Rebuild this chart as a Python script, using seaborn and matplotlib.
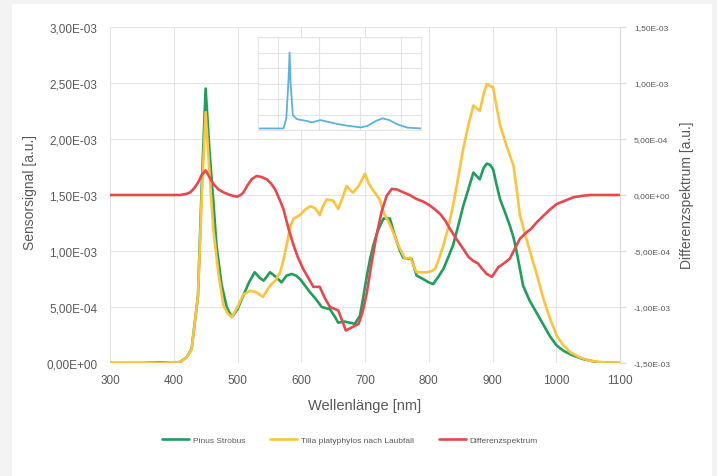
import numpy as np
import pandas as pd
import matplotlib
matplotlib.use("Agg")
import matplotlib.pyplot as plt
import matplotlib.patches as mpatches
from matplotlib.ticker import FuncFormatter, MultipleLocator
import seaborn as sns

# ---------------- data (values in units of 1E-03) ----------------
pinus_nm = [300, 350, 380, 400, 410, 420, 428, 438, 444, 450, 456, 462, 467, 475, 483, 491, 500,
            509, 518, 527, 535, 541, 551, 560, 569, 577, 585, 592, 598, 606, 614, 623, 632, 645,
            652, 658, 668, 676, 684, 692, 697, 703, 708, 713, 720, 729, 739, 745, 750, 755, 760,
            767, 773, 781, 791, 800, 807, 815, 823, 831, 838, 846, 854, 862, 870, 880, 886, 891,
            896, 901, 906, 912, 920, 927, 933, 938, 943, 948, 958, 969, 980, 990, 1000, 1011,
            1025, 1042, 1066, 1100]
pinus_val = [0, 0, 0.005, 0, 0.01, 0.05, 0.125, 0.6, 1.6, 2.45, 1.9, 1.45, 1.05, 0.7, 0.5, 0.41, 0.48,
             0.6, 0.72, 0.81, 0.76, 0.735, 0.81, 0.77, 0.72, 0.78, 0.795, 0.78, 0.75, 0.69, 0.63, 0.57, 0.50, 0.48,
             0.42, 0.36, 0.37, 0.36, 0.35, 0.42, 0.58, 0.78, 0.93, 1.05, 1.18, 1.29, 1.29, 1.17, 1.08, 1.0, 0.94,
             0.93, 0.93, 0.78, 0.75, 0.72, 0.705, 0.77, 0.84, 0.95, 1.05, 1.22, 1.40, 1.55, 1.70, 1.64, 1.74, 1.78,
             1.77, 1.73, 1.60, 1.46, 1.34, 1.23, 1.12, 0.99, 0.84, 0.69, 0.56, 0.45, 0.34, 0.24, 0.16, 0.11,
             0.07, 0.035, 0.005, 0]

tilia_nm = [300, 400, 410, 420, 428, 438, 444, 450, 456, 462, 470, 478, 485, 491, 500, 509, 520, 530,
            540, 551, 560, 567, 572, 577, 582, 588, 598, 606, 614, 622, 629, 634, 640, 650, 658, 665,
            671, 681, 690, 700, 706, 713, 723, 729, 737, 744, 750, 755, 763, 771, 776, 781, 790, 797,
            804, 810, 816, 823, 831, 838, 846, 854, 862, 870, 880, 886, 891, 901, 906, 912, 922, 933,
            938, 943, 951, 959, 970, 980, 990, 1001, 1011, 1022, 1037, 1053, 1075, 1100]
tilia_val = [0, 0, 0.01, 0.05, 0.12, 0.6, 1.5, 2.24, 1.7, 1.2, 0.8, 0.51, 0.44, 0.41, 0.5, 0.61, 0.645, 0.63,
             0.59, 0.69, 0.74, 0.81, 0.92, 1.05, 1.2, 1.29, 1.32, 1.37, 1.40, 1.38, 1.32, 1.40, 1.46, 1.45, 1.375, 1.48,
             1.58, 1.52, 1.58, 1.69, 1.60, 1.54, 1.46, 1.345, 1.26, 1.17, 1.08, 1.02, 0.93, 0.94, 0.87, 0.81, 0.81, 0.81,
             0.82, 0.84, 0.93, 1.05, 1.22, 1.40, 1.65, 1.91, 2.12, 2.30, 2.25, 2.40, 2.49, 2.46, 2.30, 2.12, 1.94, 1.76,
             1.55, 1.32, 1.15, 0.99, 0.78, 0.57, 0.40, 0.24, 0.16, 0.095, 0.05, 0.02, 0.005, 0]

diff_nm = [300, 410, 420, 426, 432, 438, 444, 450, 456, 462, 470, 478, 488, 499, 505, 509, 515, 522,
           530, 538, 546, 553, 559, 566, 572, 580, 588, 595, 603, 611, 619, 629, 637, 645, 658, 664,
           670, 680, 690, 696, 703, 710, 718, 726, 734, 742, 750, 760, 770, 781, 792, 802, 810, 818,
           826, 833, 843, 854, 862, 870, 877, 884, 891, 899, 904, 909, 918, 927, 935, 943, 952, 961,
           970, 980, 990, 1001, 1014, 1027, 1040, 1053, 1100]
diff_val = [0, 0, 0.01, 0.024, 0.06, 0.11, 0.18, 0.22, 0.16, 0.10, 0.05, 0.024, 0.0, -0.015, 0.0, 0.02, 0.08, 0.14,
            0.17, 0.16, 0.14, 0.10, 0.05, -0.04, -0.125, -0.3, -0.45, -0.56, -0.66, -0.74, -0.82, -0.82, -0.92, -1.0, -1.03, -1.12,
            -1.21, -1.18, -1.15, -1.05, -0.87, -0.62, -0.36, -0.15, -0.006, 0.054, 0.05, 0.024, 0.0, -0.036, -0.06, -0.095, -0.13, -0.17,
            -0.23, -0.30, -0.39, -0.48, -0.55, -0.59, -0.61, -0.66, -0.705, -0.73, -0.69, -0.645, -0.61, -0.57, -0.48, -0.39, -0.34, -0.30,
            -0.24, -0.185, -0.13, -0.08, -0.05, -0.02, -0.008, 0.0, 0]

inset_nm = [300, 425, 439, 450, 455, 460, 471, 491, 515, 540, 565, 606, 639, 689, 738, 804, 837, 878,
            911, 944, 985, 1034, 1100]
inset_val = [0.1, 0.1, 0.75, 3.3, 5.0, 3.0, 0.96, 0.7, 0.64, 0.58, 0.49, 0.64, 0.54, 0.39, 0.28, 0.17, 0.26, 0.58,
             0.75, 0.64, 0.36, 0.15, 0.1]

series_names = ["Pinus Strobus", "Tilia platyphylos nach Laubfall", "Differenzspektrum"]
x_label = "Wellenlänge [nm]"
y_label = "Sensorsignal [a.u.]"
y2_label = "Differenzspektrum [a.u.]"

# ---------------- styling ----------------
sns.set_theme(style="white")
plt.rcParams["font.family"] = ["Liberation Sans", "DejaVu Sans"]

GREEN = "#1f9e5c"
YELLOW = "#fcc43c"
RED = "#e8474d"
BLUE = "#5cb1e2"
GRID = "#e4e4e4"
TXT = "#595959"

fig = plt.figure(figsize=(7.17, 4.77), dpi=100)
fig.patch.set_facecolor("#f3f3f3")
fig.add_artist(mpatches.Rectangle((12 / 717, 0), 700 / 717, 472 / 477, transform=fig.transFigure,
                                  facecolor="white", edgecolor="none", zorder=0))

ax = fig.add_axes([110 / 717, 1 - 364 / 477, 510 / 717, 336 / 477])
ax.set_facecolor("none")
ax2 = ax.twinx()

def sci(v, pos=None):
    s = f"{v:.2E}".replace(".", ",")
    return s

sc = 1e-3
sns.lineplot(x=np.array(pinus_nm), y=np.array(pinus_val) * sc, ax=ax, color=GREEN, lw=1.9,
             label=series_names[0], legend=False, estimator=None)
sns.lineplot(x=np.array(tilia_nm), y=np.array(tilia_val) * sc, ax=ax, color=YELLOW, lw=1.9,
             label=series_names[1], legend=False, estimator=None)
sns.lineplot(x=np.array(diff_nm), y=np.array(diff_val) * sc, ax=ax2, color=RED, lw=1.9,
             label=series_names[2], legend=False, estimator=None)

ax.set_xlim(300, 1100)
ax.set_ylim(0, 3e-3)
ax2.set_ylim(-1.5e-3, 1.5e-3)
ax.xaxis.set_major_locator(MultipleLocator(100))
ax.yaxis.set_major_locator(MultipleLocator(5e-4))
ax2.yaxis.set_major_locator(MultipleLocator(5e-4))
ax.yaxis.set_major_formatter(FuncFormatter(sci))
ax2.yaxis.set_major_formatter(FuncFormatter(sci))

ax.grid(True, color=GRID, lw=0.8)
ax.set_axisbelow(True)
for sp in ax.spines.values():
    sp.set_visible(False)
for sp in ax2.spines.values():
    sp.set_visible(False)
ax2.spines["right"].set_visible(True)
ax2.spines["right"].set_color("#d9d9d9")
ax2.spines["right"].set_linewidth(0.8)

ax.tick_params(axis="x", length=0, pad=8, labelsize=8.5, labelcolor=TXT)
ax.tick_params(axis="y", length=0, pad=9, labelsize=8.5, labelcolor=TXT)
ax2.tick_params(axis="y", length=4, width=0.8, color="#d9d9d9", pad=6, labelsize=6, labelcolor=TXT)

ax.set_xlabel(x_label, fontsize=10.5, color=TXT)
ax.xaxis.set_label_coords(0.5, -0.105)
ax.set_ylabel(y_label, fontsize=10, color=TXT)
ax.yaxis.set_label_coords(-0.143, 0.509)
ax2.set_ylabel(y2_label, fontsize=10, color=TXT)
ax2.yaxis.set_label_coords(1.118, 0.503)

# inset
axi = fig.add_axes([258 / 717, 1 - 131 / 477, 163 / 717, 93 / 477])
axi.set_facecolor("white")
sns.lineplot(x=np.array(inset_nm), y=np.array(inset_val), ax=axi, color=BLUE, lw=1.3, estimator=None)
axi.set_xlim(300, 1100)
axi.set_ylim(0, 6)
axi.xaxis.set_major_locator(MultipleLocator(200))
axi.yaxis.set_major_locator(MultipleLocator(1))
axi.grid(True, color=GRID, lw=0.8)
axi.set_axisbelow(True)
axi.set_xticklabels([])
axi.set_yticklabels([])
axi.tick_params(length=0)
axi.set_xlabel("")
axi.set_ylabel("")
for sp in axi.spines.values():
    sp.set_color(GRID)
    sp.set_linewidth(0.8)

# legend
handles = ax.get_lines()[:2] + ax2.get_lines()[:1]
leg = fig.legend(handles, series_names, loc="center", bbox_to_anchor=(350 / 717, 1 - 441 / 477),
                 ncol=3, frameon=False, fontsize=6, handlelength=3.2, columnspacing=3.0,
                 handletextpad=0.5, labelcolor=TXT)

fig.savefig("out.png", dpi=100, facecolor=fig.get_facecolor())
